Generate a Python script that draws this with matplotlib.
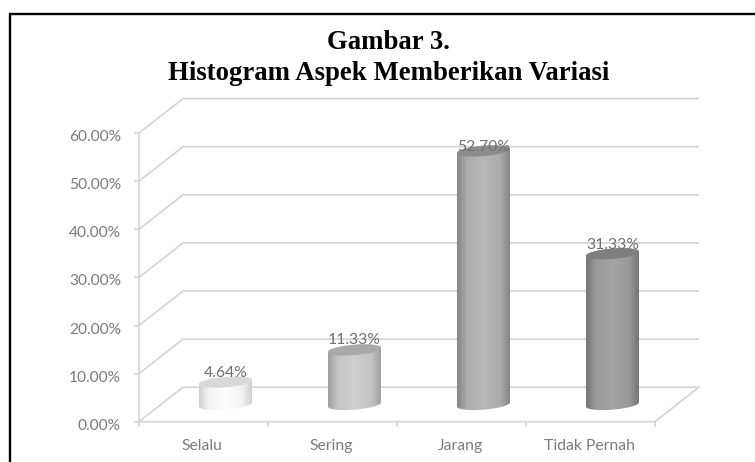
import numpy as np
import matplotlib
matplotlib.use("Agg")
import matplotlib.pyplot as plt
from matplotlib.colors import LinearSegmentedColormap, to_rgb
from matplotlib.patches import PathPatch
from matplotlib.path import Path

categories = ["Selalu", "Sering", "Jarang", "Tidak Pernah"]
values = [4.64, 11.33, 52.70, 31.33]
labels = ["4.64%", "11.33%", "52.70%", "31.33%"]
y_ticks = [0, 10, 20, 30, 40, 50, 60]
y_tick_labels = ["0.00%", "10.00%", "20.00%", "30.00%", "40.00%", "50.00%", "60.00%"]
edge_colors = ["#cfcfcf", "#a0a0a0", "#868686", "#767676"]
mid_colors = ["#ffffff", "#d0d0d0", "#b8b8b8", "#a4a4a4"]
top_colors = ["#d9d9d9", "#a9a9a9", "#8c8c8c", "#7f7f7f"]
label_gaps = [9, 10, 4, 9]

W, H = 755, 462
GRID = "#d4d4d4"
TXT = "#7b7b7b"
SANS = "Lato"

fig = plt.figure(figsize=(W / 100, H / 100), dpi=100, facecolor="white")
frame = fig.add_axes([0, 0, 1, 1])
frame.set_xlim(0, W)
frame.set_ylim(H, 0)
frame.axis("off")
frame.plot([10, 10, W + 2], [H + 2, 13.5, 13.5], color="black", lw=1.7, solid_joinstyle="miter")
frame.text(388.5, 49, "Gambar 3.", family="Liberation Serif", weight="bold", size=19.3,
           color="black", ha="center", va="baseline")
frame.text(388.5, 80, "Histogram Aspek Memberikan Variasi", family="Liberation Serif", weight="bold",
           size=19.3, color="black", ha="center", va="baseline")

x0, y0 = 139.0, 421.7
cat_w = 129.0
unit = 4.81
depth_x, depth_y = 44.0 / cat_w, 34.5 / unit
ax = fig.add_axes([x0 / W, 1 - y0 / H, (depth_x * cat_w + 4 * cat_w) / W, (60 + depth_y) * unit / H])
ax.axis("off")
ax.patch.set_alpha(0)

for t, tl in zip(y_ticks, y_tick_labels):
    ax.plot([0, depth_x, 4 + depth_x], [t, t + depth_y, t + depth_y], color=GRID, lw=1.2, clip_on=False,
            solid_capstyle="butt", zorder=1)
    ax.plot([-4 / cat_w, 0], [t, t], color=GRID, lw=1.2, clip_on=False, zorder=1)
    ax.text(-18 / cat_w, t - 4 / unit, tl, family=SANS, size=11.2, color=TXT, ha="right",
            va="center", clip_on=False)
ax.plot([0, 0], [0, 60], color=GRID, lw=1.2, clip_on=False, zorder=1)
ax.plot([0, 4, 4 + depth_x], [0, 0, depth_y], color=GRID, lw=1.2, clip_on=False, zorder=1)
for i in range(5):
    ax.plot([i, i], [0, -4 / unit], color=GRID, lw=1.2, clip_on=False, zorder=1)
for i, c in enumerate(categories):
    ax.text(i + 0.49, -24 / unit, c, family=SANS, size=11.3, color=TXT, ha="center", va="center", clip_on=False)

half_w = 26.5 / cat_w
ell_h = 5.2 / unit
tilt = 4.2 / unit / (2 * half_w)


def rim(xc, yc, lower=True):
    t = np.linspace(np.pi, 2 * np.pi, 60) if lower else np.linspace(0, np.pi, 60)
    xs = xc + half_w * np.cos(t)
    ys = yc + ell_h * np.sin(t) + tilt * (xs - xc)
    return xs, ys


for i, v in enumerate(values):
    xc = i + 0.5 + depth_x / 2
    yb = depth_y / 2
    yt = yb + v
    xs_b, ys_b = rim(xc, yb, True)
    xs_t, ys_t = rim(xc, yt, False)
    body = np.column_stack([np.r_[xs_b, xs_t], np.r_[ys_b, ys_t]])
    patch = PathPatch(Path(np.vstack([body, body[0]]), closed=True), fc="none", ec="none", transform=ax.transData)
    ax.add_patch(patch)
    e, m = np.array(to_rgb(edge_colors[i])), np.array(to_rgb(mid_colors[i]))
    mix = e * 0.25 + m * 0.75
    cmap = LinearSegmentedColormap.from_list("c", [(0, e), (0.18, mix), (0.5, m), (0.82, mix), (1, e)])
    grad = np.linspace(0, 1, 128)[None, :]
    im = ax.imshow(grad, extent=[xc - half_w, xc + half_w, yb - 3 * ell_h, yt + 3 * ell_h], cmap=cmap,
                   aspect="auto", zorder=3, interpolation="bilinear")
    im.set_clip_path(patch)
    t = np.linspace(0, 2 * np.pi, 100)
    xs = xc + half_w * np.cos(t)
    ys = yt + ell_h * np.sin(t) + tilt * (xs - xc)
    ax.fill(xs, ys, color=top_colors[i], lw=0, zorder=4)
    ax.text(xc, yt + label_gaps[i] / unit, labels[i], family=SANS, size=11.3, color="#6f6f6f", ha="center",
            va="center", zorder=5, clip_on=False)
ax.set_xlim(0, 4 + depth_x)
ax.set_ylim(0, 60 + depth_y)

fig.savefig("out.png", dpi=100)
